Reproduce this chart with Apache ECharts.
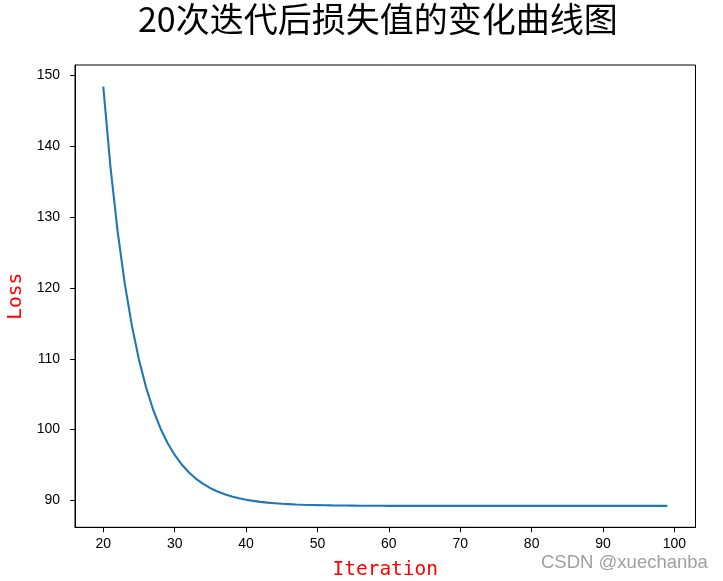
<!DOCTYPE html>
<html>
<head>
<meta charset="utf-8">
<script src="https://cdn.jsdelivr.net/npm/echarts@6/dist/echarts.min.js"></script>
<style>
  html, body { margin: 0; padding: 0; background: #fff; }
  #chart { width: 723px; height: 581px; }
</style>
</head>
<body>
<div id="chart"></div>
<script>
const titleText = '20次迭代后损失值的变化曲线图';
const xName = 'Iteration';
const yName = 'Loss';
const watermark = 'CSDN @xuechanba';
const firstIteration = 20;
const lossValues = [
  148.40, 137.16, 128.06, 120.68, 114.71, 109.87, 105.95, 102.77, 100.20, 98.12,
  96.43, 95.07, 93.96, 93.06, 92.34, 91.75, 91.27, 90.89, 90.57, 90.32,
  90.11, 89.95, 89.81, 89.70, 89.62, 89.54, 89.49, 89.44, 89.40, 89.37,
  89.35, 89.33, 89.31, 89.30, 89.29, 89.28, 89.27, 89.265, 89.26, 89.255,
  89.25, 89.25, 89.245, 89.245, 89.24, 89.24, 89.24, 89.24, 89.24, 89.24,
  89.24, 89.24, 89.24, 89.24, 89.24, 89.24, 89.24, 89.24, 89.24, 89.24,
  89.24, 89.24, 89.24, 89.24, 89.24, 89.24, 89.24, 89.24, 89.24, 89.24,
  89.24, 89.24, 89.24, 89.24, 89.24, 89.24, 89.24, 89.24, 89.24, 89.24
];
const xTicks = [20, 30, 40, 50, 60, 70, 80, 90, 100];
const yTicks = [90, 100, 110, 120, 130, 140, 150];

const points = lossValues.map((v, i) => [firstIteration + i, v]);

const chart = echarts.init(document.getElementById('chart'), null, { renderer: 'canvas' });
const tickFont = { color: '#000', fontSize: 14, fontFamily: 'Liberation Sans, Arial, sans-serif' };
chart.setOption({
  animation: false,
  backgroundColor: '#fff',
  title: {
    text: titleText,
    left: 133,
    top: -3,
    textStyle: { fontFamily: 'Noto Sans CJK SC', fontSize: 34, fontWeight: 'normal', color: '#000' }
  },
  grid: {
    left: 75, right: 27.5, top: 65, bottom: 53.7,
    outerBoundsMode: 'none',
    containLabel: false,
    show: true, borderColor: '#000', borderWidth: 1, backgroundColor: 'transparent'
  },
  xAxis: {
    type: 'value',
    min: 16.04, max: 102.95,
    name: xName,
    nameLocation: 'middle',
    nameGap: 33,
    nameTextStyle: { color: 'red', fontSize: 19.5, fontFamily: 'DejaVu Sans Mono' },
    axisLine: { show: true, lineStyle: { color: '#000', width: 1 } },
    axisTick: { show: true, inside: false, length: 5, customValues: xTicks, lineStyle: { color: '#000' } },
    axisLabel: Object.assign({ customValues: xTicks, margin: 10 }, tickFont),
    splitLine: { show: false }
  },
  yAxis: {
    type: 'value',
    min: 86.22, max: 151.45,
    name: yName,
    nameLocation: 'middle',
    nameGap: 45,
    nameRotate: 90,
    nameTextStyle: { color: 'red', fontSize: 19.5, fontFamily: 'DejaVu Sans Mono' },
    axisLine: { show: true, lineStyle: { color: '#000', width: 1 } },
    axisTick: { show: true, inside: false, length: 5, customValues: yTicks, lineStyle: { color: '#000' } },
    axisLabel: Object.assign({ customValues: yTicks, margin: 15 }, tickFont),
    splitLine: { show: false }
  },
  graphic: [{
    type: 'text',
    left: 541,
    top: 553,
    style: {
      text: watermark,
      fontSize: 18.5,
      fontFamily: 'Liberation Sans, Arial, sans-serif',
      fill: '#a0a0a0'
    },
    z: 100
  }],
  series: [{
    type: 'line',
    data: points,
    showSymbol: false,
    lineStyle: { color: '#1f77b4', width: 2.1 },
    itemStyle: { color: '#1f77b4' },
    clip: true
  }]
});
</script>
</body>
</html>
